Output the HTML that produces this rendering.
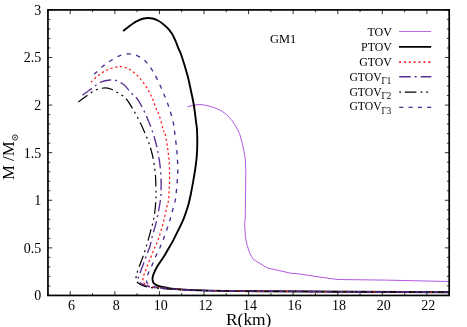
<!DOCTYPE html>
<html><head><meta charset="utf-8"><title>GM1 mass-radius</title>
<style>html,body{margin:0;padding:0;background:#fff;width:467px;height:327px;overflow:hidden;font-family:"Liberation Serif",serif}</style>
</head><body>
<svg width="467" height="327" viewBox="0 0 467 327" style="position:absolute;left:0;top:0;display:block;will-change:transform">
<rect width="467" height="327" fill="#fff"/>
<g fill="none" stroke-linejoin="round">
<path d="M187.5 106.7L195.0 105.0L200.0 104.5L205.4 105.2L210.7 106.6L216.1 108.4L221.4 110.8L226.8 114.8L232.1 120.7L235.3 125.5L237.5 129.3L239.5 133.5L242.1 142.5L244.2 152.1L245.4 160.0L245.8 171.4L245.6 192.8L245.2 220.0L244.6 222.8L245.3 235.7L246.8 244.3L249.6 252.8L253.2 259.3L267.1 267.8L290.7 273.2L300.0 274.0L317.0 276.7L337.7 279.5L385.6 280.1L449.0 281.5" stroke="#b258e2" stroke-width="1"/>
<path d="M123.1 31.0C124.0 30.3 126.6 28.3 128.3 27.0C130.0 25.7 131.7 24.3 133.4 23.2C135.1 22.1 136.9 21.1 138.6 20.3C140.3 19.5 142.1 18.9 143.7 18.5C145.3 18.1 146.7 18.0 148.2 18.0C149.7 18.0 151.1 18.1 152.7 18.5C154.3 18.9 156.1 19.6 157.8 20.5C159.5 21.4 161.3 22.5 163.0 23.9C164.7 25.2 166.6 27.0 168.1 28.6C169.6 30.2 170.8 31.9 172.0 33.8C173.2 35.7 174.2 38.0 175.2 40.2C176.2 42.5 177.1 45.0 178.0 47.3C178.9 49.6 179.7 50.7 180.8 53.8C181.9 56.9 183.5 61.8 184.7 65.8C185.9 69.8 187.0 73.6 188.1 77.8C189.2 82.0 190.0 86.3 191.0 91.0C192.0 95.7 193.2 100.8 194.0 106.0C194.8 111.2 195.6 118.1 196.1 122.1C196.6 126.1 196.8 126.5 197.0 130.0C197.2 133.4 197.3 138.5 197.3 142.8C197.3 147.1 197.1 151.4 196.8 155.7C196.5 160.0 195.9 164.2 195.3 168.5C194.7 172.8 193.9 177.1 193.2 181.4C192.4 185.7 191.7 190.0 190.8 194.2C189.9 198.4 189.0 202.7 187.8 206.8C186.6 210.9 185.2 214.8 183.7 218.6C182.2 222.4 180.3 226.0 178.6 229.5C176.9 233.0 175.4 236.2 173.6 239.6C171.8 243.0 169.3 247.2 167.7 250.0C166.1 252.8 165.7 253.6 163.9 256.5C162.1 259.4 158.6 264.1 156.8 267.2C155.0 270.2 154.0 272.8 153.3 274.8C152.6 276.8 152.4 278.0 152.5 279.4C152.6 280.8 152.7 282.1 153.7 283.2C154.7 284.3 156.1 285.2 158.3 286.0C160.5 286.8 163.9 287.3 166.7 287.8C169.5 288.3 169.4 288.6 175.0 289.0C180.6 289.4 185.8 290.0 200.0 290.4C214.2 290.8 218.5 290.9 260.0 291.2C301.5 291.5 417.5 292.0 449.0 292.2" stroke="#000" stroke-width="1.9"/>
<path d="M91.0 82.2C92.2 81.0 95.8 77.3 98.5 75.3C101.2 73.3 104.2 71.3 107.1 70.0C110.0 68.7 113.4 67.8 115.7 67.2C118.0 66.6 118.9 66.3 121.0 66.6C123.1 66.9 125.8 67.5 128.5 68.9C131.2 70.4 134.2 72.5 137.1 75.3C140.0 78.1 143.2 82.2 145.7 86.0C148.2 89.8 150.4 94.0 152.1 97.8C153.8 101.5 154.8 105.5 156.0 108.5C157.2 111.5 158.1 112.0 159.3 115.7C160.6 119.4 162.6 128.0 163.5 130.7C164.4 133.4 164.0 129.4 164.7 132.1C165.4 134.8 166.8 142.1 167.5 147.1C168.2 152.1 168.8 157.1 169.2 162.1C169.5 167.1 169.6 172.4 169.6 177.1C169.6 181.8 169.4 186.2 169.2 190.0C169.0 193.8 169.0 197.2 168.6 200.0C168.2 202.8 167.5 203.7 166.8 206.8C166.1 209.9 165.2 214.8 164.3 218.6C163.4 222.4 162.4 226.1 161.4 229.5C160.4 232.9 159.4 236.3 158.4 239.1C157.4 241.9 156.4 243.7 155.2 246.5C154.0 249.3 152.7 252.6 151.4 255.7C150.1 258.8 148.8 262.0 147.6 264.9C146.4 267.8 145.3 271.1 144.5 273.3C143.7 275.5 143.2 276.4 143.0 277.9C142.8 279.4 142.7 281.2 143.5 282.5C144.3 283.8 145.7 284.7 147.6 285.5C149.5 286.3 149.6 286.7 155.0 287.4C160.4 288.1 172.5 289.0 180.0 289.5C187.5 290.0 186.7 290.1 200.0 290.4C213.3 290.7 218.5 290.9 260.0 291.2C301.5 291.5 417.5 292.0 449.0 292.2" stroke="#ff2222" stroke-width="1.3" stroke-dasharray="2.2 2.6"/>
<path d="M82.5 95.2C84.1 94.0 89.1 90.4 92.1 88.2C95.1 86.0 97.7 83.6 100.7 82.2C103.7 80.8 107.6 80.2 110.3 80.0C113.0 79.8 114.4 79.9 116.7 80.7C119.0 81.5 121.7 82.9 124.2 85.0C126.7 87.1 129.4 91.1 131.7 93.5C134.0 95.9 135.5 96.2 137.8 99.6C140.1 102.9 143.0 108.6 145.3 113.6C147.6 118.6 150.0 124.6 151.8 129.6C153.6 134.6 155.1 140.1 156.0 143.5C156.9 146.9 156.9 146.8 157.5 150.0C158.1 153.2 159.1 158.2 159.7 162.8C160.3 167.4 160.8 172.8 161.0 177.8C161.2 182.8 161.1 189.1 161.0 192.8C160.9 196.5 160.8 196.8 160.4 200.0C160.0 203.2 159.2 207.9 158.4 211.8C157.7 215.7 156.9 219.7 155.9 223.6C154.9 227.5 153.5 231.6 152.5 235.4C151.5 239.2 151.0 243.0 149.9 246.5C148.8 250.0 147.2 253.4 146.1 256.5C144.9 259.6 144.0 262.1 143.0 264.9C142.0 267.7 140.7 271.1 139.9 273.3C139.1 275.5 138.4 276.4 138.4 277.9C138.4 279.4 138.8 281.2 139.9 282.5C141.1 283.8 143.1 284.7 145.3 285.5C147.5 286.3 147.2 286.7 153.0 287.4C158.8 288.1 172.2 289.0 180.0 289.5C187.8 290.0 186.7 290.1 200.0 290.4C213.3 290.7 218.5 290.9 260.0 291.2C301.5 291.5 417.5 292.0 449.0 292.2" stroke="#5b2f94" stroke-width="1.35" stroke-dasharray="11.5 4 2 4"/>
<path d="M78.2 102.1C79.6 101.0 84.0 97.7 86.8 95.7C89.6 93.7 92.4 91.6 95.3 90.3C98.2 89.0 101.2 88.2 103.9 88.0C106.6 87.8 108.9 88.4 111.4 89.3C113.9 90.2 116.5 92.0 118.9 93.5C121.3 95.0 123.5 95.8 126.0 98.6C128.4 101.4 131.1 106.0 133.6 110.3C136.1 114.6 138.7 119.5 141.0 124.3C143.3 129.1 145.8 135.0 147.5 139.3C149.2 143.6 150.0 146.1 151.1 150.0C152.2 153.9 153.2 158.2 153.9 162.8C154.7 167.4 155.2 172.8 155.6 177.8C155.9 182.8 155.9 189.1 156.0 192.8C156.1 196.5 156.1 197.1 155.9 200.0C155.7 202.9 155.4 206.8 155.0 210.2C154.6 213.6 154.1 216.9 153.4 220.3C152.7 223.7 152.0 225.9 150.8 230.4C149.6 234.9 147.5 242.6 146.1 247.3C144.7 252.0 143.5 255.2 142.2 258.8C140.9 262.4 139.4 265.9 138.4 268.7C137.4 271.5 136.8 273.7 136.4 275.6C136.0 277.5 135.8 278.9 136.1 280.2C136.4 281.5 137.1 282.2 138.4 283.2C139.7 284.2 141.9 285.3 143.8 286.0C145.7 286.7 147.2 287.1 149.9 287.5C152.6 287.9 155.0 288.1 160.0 288.4C165.0 288.7 173.3 289.2 180.0 289.5C186.7 289.8 186.7 290.1 200.0 290.4C213.3 290.7 218.5 290.9 260.0 291.2C301.5 291.5 417.5 292.0 449.0 292.2" stroke="#000" stroke-width="1.2" stroke-dasharray="11.5 4 2 4 2 4"/>
<path d="M94.3 74.3C95.7 73.0 99.9 68.6 102.8 66.3C105.7 64.0 108.5 62.1 111.4 60.3C114.3 58.5 117.2 56.7 120.0 55.6C122.8 54.5 125.7 53.9 128.5 53.9C131.3 53.9 134.2 54.4 137.1 55.6C140.0 56.9 143.2 59.0 145.7 61.4C148.2 63.8 150.1 67.0 152.1 70.0C154.1 73.0 155.5 75.7 157.4 79.6C159.3 83.5 161.6 88.6 163.5 93.2C165.4 97.8 167.3 102.3 168.9 107.1C170.5 111.9 172.2 117.9 173.2 122.1C174.1 126.3 174.0 127.6 174.6 132.1C175.2 136.6 176.2 144.3 176.7 149.3C177.2 154.3 177.4 157.8 177.6 162.1C177.8 166.4 177.8 170.7 177.6 175.0C177.4 179.3 177.1 183.6 176.7 187.8C176.3 192.0 176.0 196.1 175.3 200.0C174.6 203.9 173.3 207.6 172.4 211.0C171.5 214.4 170.8 217.2 169.9 220.3C169.0 223.4 167.9 226.4 166.8 229.5C165.7 232.6 164.6 236.2 163.5 239.1C162.4 242.0 161.3 244.4 160.1 247.2C158.8 250.0 157.3 252.8 156.0 255.7C154.7 258.6 153.5 262.0 152.2 264.9C150.9 267.8 149.3 270.9 148.3 273.3C147.3 275.7 146.5 277.7 146.4 279.4C146.3 281.1 146.5 282.4 147.6 283.5C148.7 284.6 151.1 285.6 152.9 286.3C154.7 287.0 154.1 287.1 158.6 287.6C163.1 288.1 173.1 289.0 180.0 289.5C186.9 290.0 186.7 290.1 200.0 290.4C213.3 290.7 218.5 290.9 260.0 291.2C301.5 291.5 417.5 292.0 449.0 292.2" stroke="#502892" stroke-width="1.35" stroke-dasharray="4.2 5.5"/>
</g>
<path d="M47.95 295.45v-2.3M47.95 9.90v2.3M70.24 295.45v-4.3M70.24 9.90v4.3M92.53 295.45v-2.3M92.53 9.90v2.3M114.83 295.45v-4.3M114.83 9.90v4.3M137.12 295.45v-2.3M137.12 9.90v2.3M159.41 295.45v-4.3M159.41 9.90v4.3M181.70 295.45v-2.3M181.70 9.90v2.3M203.99 295.45v-4.3M203.99 9.90v4.3M226.28 295.45v-2.3M226.28 9.90v2.3M248.57 295.45v-4.3M248.57 9.90v4.3M270.87 295.45v-2.3M270.87 9.90v2.3M293.16 295.45v-4.3M293.16 9.90v4.3M315.45 295.45v-2.3M315.45 9.90v2.3M337.74 295.45v-4.3M337.74 9.90v4.3M360.03 295.45v-2.3M360.03 9.90v2.3M382.32 295.45v-4.3M382.32 9.90v4.3M404.62 295.45v-2.3M404.62 9.90v2.3M426.91 295.45v-4.3M426.91 9.90v4.3M449.20 295.45v-2.3M449.20 9.90v2.3M47.95 295.45h4.3M449.20 295.45h-4.3M47.95 285.93h2.3M449.20 285.93h-2.3M47.95 276.41h2.3M449.20 276.41h-2.3M47.95 266.89h2.3M449.20 266.89h-2.3M47.95 257.38h2.3M449.20 257.38h-2.3M47.95 247.86h4.3M449.20 247.86h-4.3M47.95 238.34h2.3M449.20 238.34h-2.3M47.95 228.82h2.3M449.20 228.82h-2.3M47.95 219.30h2.3M449.20 219.30h-2.3M47.95 209.78h2.3M449.20 209.78h-2.3M47.95 200.27h4.3M449.20 200.27h-4.3M47.95 190.75h2.3M449.20 190.75h-2.3M47.95 181.23h2.3M449.20 181.23h-2.3M47.95 171.71h2.3M449.20 171.71h-2.3M47.95 162.19h2.3M449.20 162.19h-2.3M47.95 152.67h4.3M449.20 152.67h-4.3M47.95 143.16h2.3M449.20 143.16h-2.3M47.95 133.64h2.3M449.20 133.64h-2.3M47.95 124.12h2.3M449.20 124.12h-2.3M47.95 114.60h2.3M449.20 114.60h-2.3M47.95 105.08h4.3M449.20 105.08h-4.3M47.95 95.56h2.3M449.20 95.56h-2.3M47.95 86.05h2.3M449.20 86.05h-2.3M47.95 76.53h2.3M449.20 76.53h-2.3M47.95 67.01h2.3M449.20 67.01h-2.3M47.95 57.49h4.3M449.20 57.49h-4.3M47.95 47.97h2.3M449.20 47.97h-2.3M47.95 38.45h2.3M449.20 38.45h-2.3M47.95 28.94h2.3M449.20 28.94h-2.3M47.95 19.42h2.3M449.20 19.42h-2.3M47.95 9.90h4.3M449.20 9.90h-4.3" stroke="#000" stroke-width="0.8" fill="none"/>
<rect x="47.95" y="9.90" width="401.25" height="285.55" fill="none" stroke="#000" stroke-width="1.7"/>
<g font-family="'Liberation Serif', serif" fill="#000">
<text x="71.6" y="310.0" font-size="14.00" text-anchor="middle">6</text>
<text x="116.2" y="310.0" font-size="14.00" text-anchor="middle">8</text>
<text x="160.8" y="310.0" font-size="14.00" text-anchor="middle">10</text>
<text x="205.4" y="310.0" font-size="14.00" text-anchor="middle">12</text>
<text x="250.0" y="310.0" font-size="14.00" text-anchor="middle">14</text>
<text x="294.6" y="310.0" font-size="14.00" text-anchor="middle">16</text>
<text x="339.1" y="310.0" font-size="14.00" text-anchor="middle">18</text>
<text x="383.7" y="310.0" font-size="14.00" text-anchor="middle">20</text>
<text x="428.3" y="310.0" font-size="14.00" text-anchor="middle">22</text>
<text x="41.3" y="300.2" font-size="14.00" text-anchor="end">0</text>
<text x="41.3" y="252.7" font-size="14.00" text-anchor="end">0.5</text>
<text x="41.3" y="205.1" font-size="14.00" text-anchor="end">1</text>
<text x="41.3" y="157.5" font-size="14.00" text-anchor="end">1.5</text>
<text x="41.3" y="109.9" font-size="14.00" text-anchor="end">2</text>
<text x="41.3" y="62.3" font-size="14.00" text-anchor="end">2.5</text>
<text x="41.3" y="14.7" font-size="14.00" text-anchor="end">3</text>
</g>
<g font-family="'Liberation Serif', serif" fill="#000">
<text x="226.0" y="324.5" font-size="16.50" text-anchor="start" textLength="45.4" lengthAdjust="spacingAndGlyphs">R(km)</text>
<text transform="translate(13.5 180) rotate(-90)" font-size="16"><tspan textLength="38.6" lengthAdjust="spacingAndGlyphs">M /M</tspan></text>
<circle cx="15" cy="137.5" r="2.6" fill="none" stroke="#000" stroke-width="0.8"/><circle cx="15" cy="137.5" r="0.8" fill="#000"/>
<text x="270.0" y="42.7" font-size="13.50" text-anchor="start" textLength="26.3" lengthAdjust="spacingAndGlyphs">GM1</text>
<text x="367.4" y="35.8" font-size="13.10" text-anchor="start" textLength="24.5" lengthAdjust="spacingAndGlyphs">TOV</text>
<text x="361.1" y="51.0" font-size="13.10" text-anchor="start" textLength="30.8" lengthAdjust="spacingAndGlyphs">PTOV</text>
<text x="359.2" y="66.1" font-size="13.10" text-anchor="start" textLength="32.7" lengthAdjust="spacingAndGlyphs">GTOV</text>
<text x="349.4" y="80.6" font-size="13.10" text-anchor="start" textLength="32.3" lengthAdjust="spacingAndGlyphs">GTOV</text>
<text x="381.6" y="83.9" font-size="9.60" text-anchor="start" textLength="9.6" lengthAdjust="spacingAndGlyphs">&#915;1</text>
<text x="349.4" y="95.5" font-size="13.10" text-anchor="start" textLength="32.3" lengthAdjust="spacingAndGlyphs">GTOV</text>
<text x="381.6" y="98.8" font-size="9.60" text-anchor="start" textLength="9.6" lengthAdjust="spacingAndGlyphs">&#915;2</text>
<text x="349.4" y="110.4" font-size="13.10" text-anchor="start" textLength="32.3" lengthAdjust="spacingAndGlyphs">GTOV</text>
<text x="381.6" y="113.7" font-size="9.60" text-anchor="start" textLength="9.6" lengthAdjust="spacingAndGlyphs">&#915;3</text>
</g>
<g fill="none">
<path d="M399 31.5H431.2" stroke="#b258e2" stroke-width="0.9"/>
<path d="M399 46.9H431.2" stroke="#000" stroke-width="1.9"/>
<path d="M399.1 62.1H431.3" stroke="#ff2222" stroke-width="1.6" stroke-dasharray="1.9 2.97"/>
<path d="M399.2 76.8H431.3" stroke="#5b2f94" stroke-width="1.5" stroke-dasharray="11.5 4 2 4"/>
<path d="M399.2 92.2h1.8m3.8 0h11.5m4.3 0h1.8m3.8 0h1.9" stroke="#000" stroke-width="1.3"/>
<path d="M399.2 107.4H431.3" stroke="#502892" stroke-width="1.4" stroke-dasharray="4.2 5.1"/>
</g>
</svg>
</body></html>
